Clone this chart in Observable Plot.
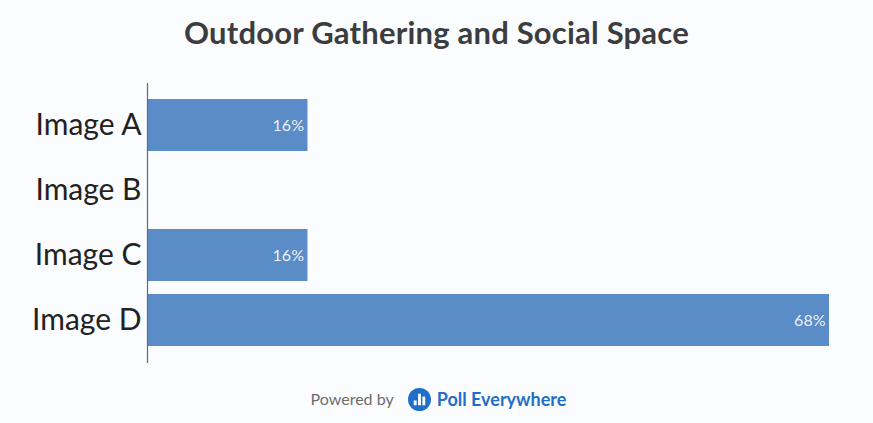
<!DOCTYPE html>
<html>
<head>
<meta charset="utf-8">
<script src="https://cdn.jsdelivr.net/npm/d3@7"></script>
<script src="https://cdn.jsdelivr.net/npm/@observablehq/plot@0.6"></script>
<style>
  html, body { margin: 0; padding: 0; background: #fbfcfe; }
  body { width: 873px; height: 423px; overflow: hidden; font-family: Lato, "Noto Sans", sans-serif; }
  #title { height: 70px; box-sizing: border-box; padding-top: 13px; text-align: center;
           font-weight: 700; font-size: 31px; color: #3b3d40; letter-spacing: 0.2px; }
  #chart { height: 305px; }
  #footer { height: 48px; display: flex; justify-content: center; align-items: flex-start;
            padding-top: 13px; box-sizing: border-box; gap: 6px; padding-left: 4px; }
  #footer .by { color: #6d6d6d; font-size: 16px; line-height: 22px; margin-right: 8px; }
  #footer .brand { color: #1f6fc8; font-weight: 700; font-size: 18px; line-height: 22px; }
</style>
</head>
<body>
<div id="title">Outdoor Gathering and Social Space</div>
<div id="chart"></div>
<div id="footer">
  <span class="by">Powered by</span>
  <svg width="23" height="23" viewBox="0 0 24 24">
    <circle cx="12" cy="12" r="12" fill="#1f6fc8"/>
    <rect x="6" y="13" width="3" height="5" fill="#fff"/>
    <rect x="10.5" y="6" width="3" height="12" fill="#fff"/>
    <rect x="15" y="9" width="3" height="9" fill="#fff"/>
  </svg>
  <span class="brand">Poll Everywhere</span>
</div>
<script>
// Poll responses (percent of votes) per option
const options = ["Image A", "Image B", "Image C", "Image D"];
const percents = [16, 0, 16, 68];

const rows = options.map((option, i) => ({option, percent: percents[i]}));
const voted = rows.filter(d => d.percent > 0);

const chart = Plot.plot({
  width: 873,
  height: 305,
  marginLeft: 147,
  marginRight: 44,
  marginTop: 13,
  marginBottom: 12,
  style: {background: "transparent", fontFamily: "Lato, 'Noto Sans', sans-serif"},
  x: {domain: [0, 68], axis: null},
  y: {domain: options, range: [14, 290], padding: 0.2, label: null},
  marks: [
    Plot.axisY({tickSize: 0, tickPadding: 6, fontSize: 30, fill: "#222", label: null}),
    Plot.barX(rows, {x: "percent", y: "option", fill: "#5a8cc8"}),
    Plot.text(voted, {
      x: "percent", y: "option", text: d => `${d.percent}%`,
      textAnchor: "end", dx: -4, fill: "#fff", fontSize: 16, fillOpacity: 0.9
    }),
    Plot.ruleX([0], {stroke: "#5a6b80", strokeWidth: 1.2})
  ]
});
document.getElementById("chart").append(chart);
</script>
</body>
</html>
